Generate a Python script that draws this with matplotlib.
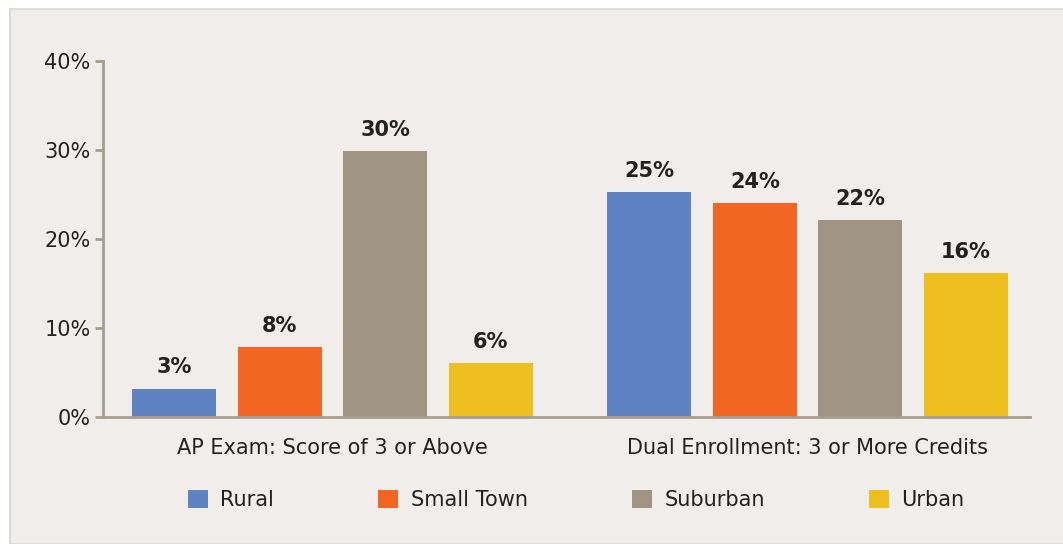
import matplotlib
matplotlib.use('Agg')
import matplotlib.pyplot as plt
from matplotlib.patches import Rectangle, Patch
import numpy as np

# данные с графика
categories = ['AP Exam: Score of 3 or Above', 'Dual Enrollment: 3 or More Credits']
groups = ['Rural', 'Small Town', 'Suburban', 'Urban']
values = {
    'Rural': [3.2, 25.3],
    'Small Town': [7.9, 24.0],
    'Suburban': [29.9, 22.1],
    'Urban': [6.1, 16.2],
}
value_labels = {
    'Rural': ['3%', '25%'],
    'Small Town': ['8%', '24%'],
    'Suburban': ['30%', '22%'],
    'Urban': ['6%', '16%'],
}
colors = ['#5F83C2', '#F26522', '#A09483', '#EDBF1E']
y_ticks = [0, 10, 20, 30, 40]

bg = '#F1EDEA'
axis_color = '#A89E90'
text_color = '#222222'

plt.rcParams['font.family'] = ['DejaVu Sans']

fig = plt.figure(figsize=(10.63, 5.44), dpi=100, facecolor='white')
# бежевая подложка с тонкой рамкой
fig.add_artist(Rectangle((10 / 1063, 0), 1, 1 - 9 / 544, transform=fig.transFigure,
                         facecolor=bg, edgecolor='#E0DBD6', linewidth=1.5, zorder=0))

ax = fig.add_axes([103 / 1063, 1 - 417 / 544, 927 / 1063, 356 / 544])
ax.set_facecolor('none')

x = np.arange(len(categories))
step = 0.222
width = 0.177
for i, (g, c) in enumerate(zip(groups, colors)):
    pos = x + (i - 1.5) * step
    bars = ax.bar(pos, values[g], width=width, color=c, label=g, zorder=2)
    for b, lab in zip(bars, value_labels[g]):
        ax.annotate(lab, (b.get_x() + b.get_width() / 2, b.get_height()),
                    xytext=(0, 8), textcoords='offset points', ha='center', va='bottom',
                    fontsize=15, fontweight='semibold', color=text_color)

ax.set_xlim(-0.483, 1.468)
ax.set_ylim(0, 40)
ax.set_yticks(y_ticks)
ax.set_yticklabels([f'{t}%' for t in y_ticks])
ax.set_xticks(x)
ax.set_xticklabels(categories)

for s in ['top', 'right']:
    ax.spines[s].set_visible(False)
for s in ['left', 'bottom']:
    ax.spines[s].set_color(axis_color)
    ax.spines[s].set_linewidth(2)
ax.tick_params(axis='y', length=6, width=2, color=axis_color, labelsize=15,
               labelcolor=text_color, pad=3)
ax.tick_params(axis='x', length=0, labelsize=15, labelcolor=text_color, pad=15)

handles = [Patch(facecolor=c, label=g) for g, c in zip(groups, colors)]
fig.legend(handles=handles, loc='center', bbox_to_anchor=(0.542, 0.081), ncol=4,
           frameon=False, fontsize=15, handlelength=0.95, handleheight=0.95,
           handletextpad=0.6, columnspacing=5.0, labelcolor=text_color)

fig.savefig('out.png', dpi=100, facecolor='white')
